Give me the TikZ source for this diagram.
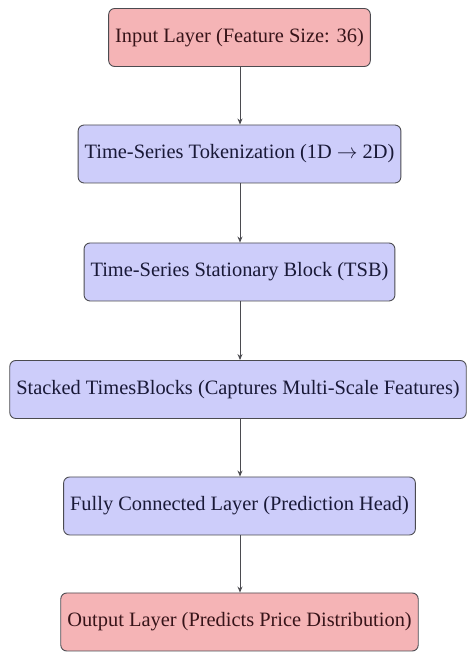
\documentclass[tikz,border=0pt]{standalone}
\usepackage{fontspec}
\setmainfont{Liberation Serif}
\usetikzlibrary{arrows.meta}
\definecolor{pinkfill}{RGB}{245,180,182}
\definecolor{bluefill}{RGB}{205,205,250}
\definecolor{edgegray}{RGB}{75,75,80}
\definecolor{pinktext}{RGB}{55,20,25}
\definecolor{bluetext}{RGB}{25,25,55}
\tikzset{
  layerbox/.style={draw=edgegray, line width=0.9pt, rounded corners=6pt,
    minimum height=58pt, inner xsep=6.5pt, inner ysep=0pt,
    font=\fontsize{20.4}{24}\selectfont},
  redbox/.style={layerbox, fill=pinkfill, text=pinktext},
  bluebox/.style={layerbox, fill=bluefill, text=bluetext},
  flow/.style={draw=edgegray, line width=0.9pt, -{Stealth[length=6pt,width=5pt]}}
}
\begin{document}
\begin{tikzpicture}[x=1pt,y=1pt]
\useasboundingbox (0,0) rectangle (467,655);
\node[redbox]  (in)  at (239.5,617.5) {Input Layer (Feature Size: 36)};
\node[bluebox] (tok) at (239.5,501)   {Time-Series Tokenization (1D $\rightarrow$ 2D)};
\node[bluebox] (tsb) at (239.5,383)   {Time-Series Stationary Block (TSB)};
\node[bluebox] (stk) at (238,265.5)   {Stacked TimesBlocks (Captures Multi-Scale Features)};
\node[bluebox] (fc)  at (239.5,149)   {Fully Connected Layer (Prediction Head)};
\node[redbox]  (out) at (239.5,33)    {Output Layer (Predicts Price Distribution)};
\draw[flow] (in.south -| 240,0) -- (tok.north -| 240,0);
\draw[flow] (tok.south -| 240,0) -- (tsb.north -| 240,0);
\draw[flow] (tsb.south -| 240,0) -- (stk.north -| 240,0);
\draw[flow] (stk.south -| 240,0) -- (fc.north -| 240,0);
\draw[flow] (fc.south -| 240,0) -- (out.north -| 240,0);
\end{tikzpicture}
\end{document}
